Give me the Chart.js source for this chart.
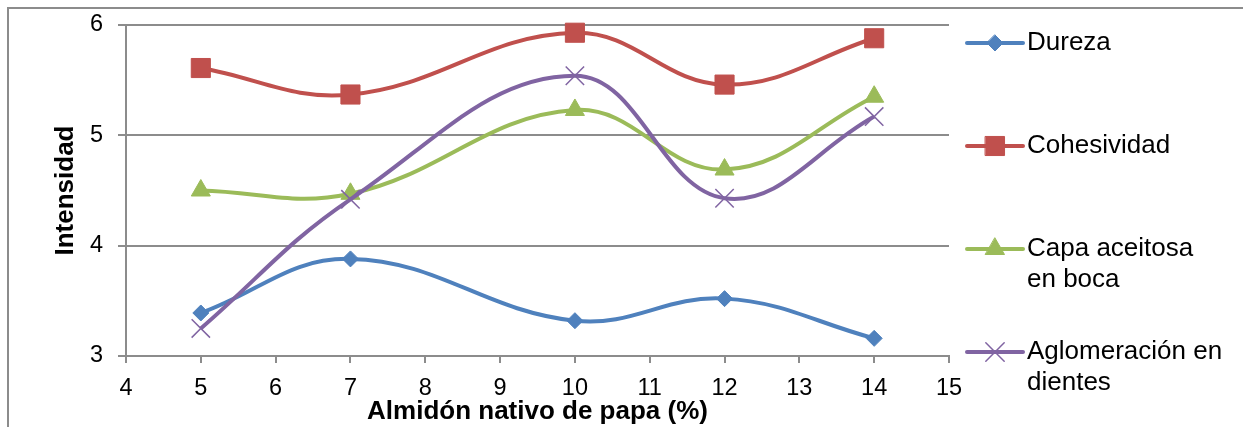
<!DOCTYPE html>
<html>
<head>
<meta charset="utf-8">
<script src="https://cdn.jsdelivr.net/npm/chart.js@4/dist/chart.umd.min.js"></script>
<style>
  html, body { margin: 0; padding: 0; background: #fff; }
  #wrap { position: relative; width: 1243px; height: 427px; overflow: hidden; }
  #frame { position: absolute; left: 7px; top: 7px; width: 1300px; height: 500px;
           border-top: 2px solid #8c8c8c; border-left: 2px solid #8c8c8c; }
  canvas { position: absolute; left: 0; top: 0; }
</style>
</head>
<body>
<div id="wrap">
  <div id="frame"></div>
  <canvas id="c" width="1243" height="427"></canvas>
</div>
<script>
// Starch content (%) and sensory intensity per attribute
const almidon      = [5, 7, 10, 12, 14];
const dureza       = [3.39, 3.88, 3.32, 3.52, 3.16];
const cohesividad  = [5.61, 5.37, 5.93, 5.46, 5.88];
const capaAceitosa = [4.50, 4.47, 5.23, 4.69, 5.35];
const aglomeracion = [3.25, 4.42, 5.54, 4.43, 5.17];

const seriesNames  = ['Dureza', 'Cohesividad', 'Capa aceitosa en boca', 'Aglomeración en dientes'];
const legendLines  = [['Dureza'], ['Cohesividad'], ['Capa aceitosa', 'en boca'], ['Aglomeración en', 'dientes']];
const xTitle = 'Almidón nativo de papa (%)';
const yTitle = 'Intensidad';

const FONT = "'Liberation Sans', Arial, sans-serif";

const styles = [
  { color: '#4F81BD', pointStyle: 'rectRot',  radius: 8,  bw: 1 },
  { color: '#C0504D', pointStyle: 'rect',     radius: 13.5, bw: 1 },
  { color: '#9BBB59', pointStyle: 'triangle', radius: 11, bw: 1 },
  { color: '#8064A2', pointStyle: 'crossRot', radius: 13, bw: 1.5 }
];

const values = [dureza, cohesividad, capaAceitosa, aglomeracion];

const datasets = values.map((vals, i) => ({
  label: seriesNames[i],
  data: almidon.map((x, k) => ({ x: x, y: vals[k] })),
  borderColor: styles[i].color,
  backgroundColor: styles[i].color,
  borderWidth: 4,
  tension: 0.4,
  pointStyle: styles[i].pointStyle,
  pointRadius: styles[i].radius,
  pointHoverRadius: styles[i].radius,
  pointBorderWidth: styles[i].bw,
  pointBackgroundColor: styles[i].color,
  pointBorderColor: styles[i].color,
  clip: false,
  order: values.length - i
}));

// Draws a legend marker shaped like the series' points
function drawMarker(ctx, style, x, y) {
  const r = style.radius;
  ctx.save();
  ctx.fillStyle = style.color;
  ctx.strokeStyle = style.color;
  ctx.lineWidth = style.bw;
  ctx.beginPath();
  if (style.pointStyle === 'rectRot') {
    ctx.moveTo(x, y - r); ctx.lineTo(x + r, y); ctx.lineTo(x, y + r); ctx.lineTo(x - r, y);
    ctx.closePath(); ctx.fill(); ctx.stroke();
  } else if (style.pointStyle === 'rect') {
    const s = r * Math.SQRT1_2;
    ctx.rect(x - s, y - s, 2 * s, 2 * s); ctx.fill(); ctx.stroke();
  } else if (style.pointStyle === 'triangle') {
    for (let k = 0; k < 3; k++) {
      const a = k * 2 * Math.PI / 3;
      const px = x + Math.sin(a) * r, py = y - Math.cos(a) * r;
      if (k === 0) ctx.moveTo(px, py); else ctx.lineTo(px, py);
    }
    ctx.closePath(); ctx.fill(); ctx.stroke();
  } else if (style.pointStyle === 'crossRot') {
    const d = r * Math.SQRT1_2;
    ctx.moveTo(x - d, y - d); ctx.lineTo(x + d, y + d);
    ctx.moveTo(x + d, y - d); ctx.lineTo(x - d, y + d);
    ctx.stroke();
  }
  ctx.restore();
}

const sideLegend = {
  id: 'sideLegend',
  afterDraw(chart) {
    const ctx = chart.ctx;
    const lineX0 = 967, lineX1 = 1023, textX = 1027;
    const firstY = 43, step = 103, lineGap = 31;
    ctx.save();
    legendLines.forEach((lines, i) => {
      const y = firstY + i * step;
      const st = styles[i];
      ctx.strokeStyle = st.color;
      ctx.lineWidth = 4;
      ctx.lineCap = 'round';
      ctx.beginPath(); ctx.moveTo(lineX0, y); ctx.lineTo(lineX1, y); ctx.stroke();
      drawMarker(ctx, st, (lineX0 + lineX1) / 2, y);
      ctx.fillStyle = '#000';
      ctx.font = '26px ' + FONT;
      ctx.textAlign = 'left';
      ctx.textBaseline = 'middle';
      lines.forEach((t, j) => ctx.fillText(t, textX, y + j * lineGap));
    });
    ctx.restore();
  }
};

new Chart(document.getElementById('c'), {
  type: 'line',
  data: { datasets: datasets },
  plugins: [sideLegend],
  options: {
    responsive: false,
    devicePixelRatio: 1,
    animation: false,
    layout: { padding: { left: 0, top: 25, right: 294, bottom: 0 } },
    plugins: { legend: { display: false }, tooltip: { enabled: false } },
    scales: {
      x: {
        type: 'linear',
        min: 4, max: 15,
        ticks: { stepSize: 1, color: '#000', font: { family: FONT, size: 23.5 }, padding: 11, maxRotation: 0 },
        grid: { drawOnChartArea: false, drawTicks: true, tickLength: 7, color: '#8c8c8c', lineWidth: 2 },
        border: { display: true, color: '#8c8c8c', width: 2 },
        title: { display: true, text: xTitle, color: '#000',
                 font: { family: FONT, size: 26, weight: 'bold', lineHeight: 1.2 },
                 padding: { top: 0, bottom: 0 } },
        afterFit(scale) { scale.height = 71; scale.paddingLeft = 0; scale.paddingRight = 0; }
      },
      y: {
        min: 3, max: 6,
        ticks: { stepSize: 1, color: '#000', font: { family: FONT, size: 23.5 }, padding: 15 },
        grid: { drawOnChartArea: true, drawTicks: true, tickLength: 8, color: '#8c8c8c', lineWidth: 2 },
        border: { display: true, color: '#8c8c8c', width: 2 },
        title: { display: true, text: yTitle, color: '#000',
                 font: { family: FONT, size: 26, weight: 'bold', lineHeight: 1.2 },
                 padding: { top: 50, bottom: 0 } },
        afterFit(scale) { scale.width = 126; scale.paddingTop = 0; scale.paddingBottom = 0; }
      }
    }
  }
});
</script>
</body>
</html>
